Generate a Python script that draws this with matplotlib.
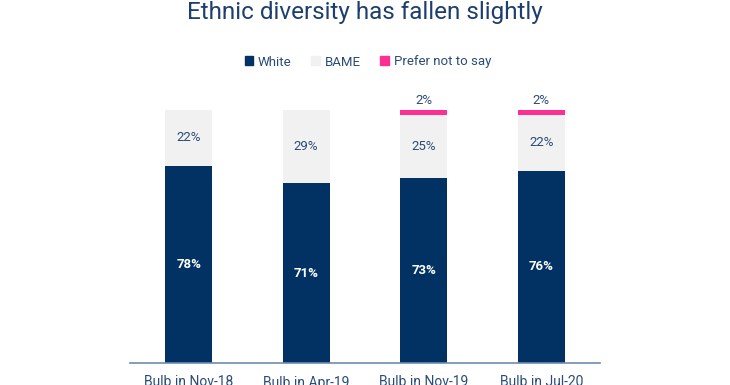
import matplotlib.pyplot as plt
from matplotlib.patches import Patch

categories = ['Bulb in Nov-18', 'Bulb in Apr-19', 'Bulb in Nov-19', 'Bulb in Jul-20']
white = [78, 71, 73, 76]
bame = [22, 29, 25, 22]
prefer_not = [0, 0, 2, 2]

NAVY = '#013263'
GREY = '#f1f1f1'
PINK = '#ff2e93'
TEXT = '#2b4c78'

plt.rcParams['font.family'] = ['Roboto', 'DejaVu Sans']

fig = plt.figure(figsize=(7.3, 3.85), dpi=100)
ax = fig.add_axes([130/730, 22/385, 470/730, 253/385])

x = list(range(len(categories)))
w = 0.40
ax.bar(x, white, w, color=NAVY, label='White')
ax.bar(x, bame, w, bottom=white, color=GREY, label='BAME')
bot2 = [a + b for a, b in zip(white, bame)]
ax.bar(x, prefer_not, w, bottom=bot2, color=PINK, label='Prefer not to say')

for i in x:
    ax.text(i, white[i] / 2, f'{white[i]}%', ha='center', va='center',
            color='white', fontsize=9.5, fontweight='bold')
    ax.text(i, white[i] + bame[i] / 2, f'{bame[i]}%', ha='center', va='center',
            color=TEXT, fontsize=9.5)
    if prefer_not[i] > 0:
        ax.text(i, bot2[i] + prefer_not[i] + 1.2, f'{prefer_not[i]}%', ha='center',
                va='bottom', color=TEXT, fontsize=9.5, clip_on=False)

ax.set_xlim(-0.5, 3.5)
ax.set_ylim(0, 100)
ax.set_xticks(x)
ax.set_xticklabels(categories, color=TEXT, fontsize=10)
ax.tick_params(axis='x', length=0, pad=9)
ax.set_yticks([])
for s in ['top', 'right', 'left']:
    ax.spines[s].set_visible(False)
ax.spines['bottom'].set_color('#6f8bb0')
ax.spines['bottom'].set_linewidth(1.2)

fig.text(0.5, 1 - 13/385, 'Ethnic diversity has fallen slightly', ha='center', va='center',
         color='#1d3f6e', fontsize=17.5)

handles = [Patch(color=NAVY), Patch(color=GREY), Patch(color=PINK)]
fig.legend(handles, ['White', 'BAME', 'Prefer not to say'], loc='center',
           bbox_to_anchor=(0.504, 1 - 62/385), ncol=3, frameon=False,
           handlelength=0.65, handleheight=0.65, handletextpad=0.35, columnspacing=1.5,
           fontsize=9.5, labelcolor=TEXT)

fig.savefig('out.png', dpi=100)
